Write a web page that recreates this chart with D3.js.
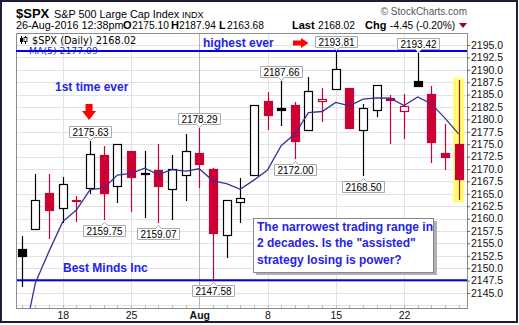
<!DOCTYPE html>
<html>
<head>
<meta charset="utf-8">
<script src="https://cdn.jsdelivr.net/npm/d3@7"></script>
<style>
  body { margin: 0; background: #fff; }
  svg { display: block; font-family: "Liberation Sans", Arial, sans-serif; }
  .grid line { stroke: #e2e2e2; shape-rendering: crispEdges; }
  .yAxis .domain, .xAxis .domain { display: none; }
  .yAxis .tick line { stroke: #666; }
  .yAxis .tick text { font-size: 10.5px; fill: #111; }
  .xAxis .tick line { display: none; }
  .xAxis .tick text { font-size: 10.5px; fill: #111; }
  .note { fill: #2424e8; font-weight: bold; font-size: 12px; }
  .callout text { font-size: 10px; fill: #000; }
</style>
</head>
<body>
<svg id="chart" width="519" height="325"></svg>
<script>
// daily candles, $SPX, Jul 13 - Aug 26 2016
const dates = ["2016-07-13","2016-07-14","2016-07-15","2016-07-18","2016-07-19","2016-07-20","2016-07-21","2016-07-22",
  "2016-07-25","2016-07-26","2016-07-27","2016-07-28","2016-07-29","2016-08-01","2016-08-02","2016-08-03","2016-08-04",
  "2016-08-05","2016-08-08","2016-08-09","2016-08-10","2016-08-11","2016-08-12","2016-08-15","2016-08-16","2016-08-17",
  "2016-08-18","2016-08-19","2016-08-22","2016-08-23","2016-08-24","2016-08-25","2016-08-26"];
const open = [2153.81,2157.88,2165.13,2162.04,2163.79,2166.10,2172.91,2166.47,2173.71,2168.97,2169.81,2166.05,2168.83,
  2173.15,2169.94,2156.81,2163.51,2168.79,2183.76,2182.24,2182.81,2177.97,2183.74,2186.08,2186.24,2177.84,2181.90,
  2184.24,2181.58,2187.81,2185.09,2173.29,2175.10];
const high = [2156.45,2168.99,2169.05,2168.35,2164.63,2175.63,2174.56,2175.11,2173.71,2173.54,2174.98,2172.85,2177.09,
  2178.29,2170.20,2163.79,2168.19,2182.87,2185.44,2187.66,2183.41,2188.45,2186.28,2193.81,2186.24,2183.08,2187.03,
  2185.00,2185.15,2193.42,2186.66,2179.00,2187.94];
const low = [2146.21,2157.88,2155.79,2159.07,2159.40,2164.89,2159.75,2163.24,2161.35,2160.18,2159.07,2159.74,2163.49,
  2166.21,2147.58,2152.02,2159.07,2168.79,2177.85,2178.61,2172.00,2177.97,2179.42,2186.08,2178.14,2168.50,2180.46,
  2175.13,2175.96,2186.80,2171.25,2169.74,2163.68];
const close = [2152.43,2163.75,2161.74,2166.89,2163.78,2173.02,2165.17,2175.03,2168.48,2169.18,2166.58,2170.06,2173.60,
  2170.84,2157.03,2163.79,2164.25,2182.87,2180.89,2181.74,2175.49,2185.79,2184.05,2190.15,2178.15,2182.22,2187.02,
  2183.87,2182.64,2186.90,2175.44,2172.47,2168.02];
const prevClose = 2152.14;
const ma5 = [2133.91,2147.08,2153.44,2159.39,2161.72,2165.84,2166.12,2168.78,2169.10,2170.18,2168.89,2169.87,2169.58,
  2170.05,2167.62,2167.06,2165.90,2167.76,2169.77,2174.71,2177.05,2181.36,2181.59,2183.44,2182.73,2184.07,2184.32,
  2184.28,2182.78,2184.53,2183.17,2180.26,2177.09];

const yTicks = d3.range(2145, 2195.01, 2.5);
const xTickDates = ["2016-07-18","2016-07-25","2016-08-01","2016-08-08","2016-08-15","2016-08-22"];
const xTickLabels = ["18","25","Aug","8","15","22"];

// levels and value callouts
const levels = [2193.81, 2147.58];
const callouts = [
  {date: "2016-07-20", text: "2175.63", side: "up"},
  {date: "2016-07-21", text: "2159.75", side: "down"},
  {date: "2016-07-27", text: "2159.07", side: "down"},
  {date: "2016-08-01", text: "2178.29", side: "up"},
  {date: "2016-08-02", text: "2147.58", side: "down"},
  {date: "2016-08-09", text: "2187.66", side: "up"},
  {date: "2016-08-10", text: "2172.00", side: "down"},
  {date: "2016-08-15", text: "2193.81", side: "up"},
  {date: "2016-08-17", text: "2168.50", side: "down"},
  {date: "2016-08-23", text: "2193.42", side: "up"}
];

const W = 519, H = 325;
const margin = {top: 33, right: 52, bottom: 17, left: 16};
const plotR = W - margin.right, plotB = H - margin.bottom;

const svg = d3.select("#chart");

const x = d3.scalePoint().domain(dates).range([21.8, 458.6]);
const y = d3.scaleLinear().domain([2145, 2195]).range([293, 45]);
const px = v => Math.round(v) + 0.5;

svg.append("defs").append("clipPath").attr("id", "plotClip")
  .append("rect").attr("x", margin.left).attr("y", margin.top)
  .attr("width", plotR - margin.left).attr("height", plotB - margin.top);

// outer frame
svg.append("rect").attr("x", 1).attr("y", 1).attr("width", W - 3).attr("height", H - 4)
  .attr("fill", "#fff").attr("stroke", "#1c1c3a").attr("stroke-width", 2);

// header
const head = svg.append("g");
head.append("text").attr("x", 16).attr("y", 17.5).attr("font-size", 13).attr("font-weight", "bold").text("$SPX");
head.append("text").attr("x", 54).attr("y", 17.5).attr("font-size", 10.8).text("S&P 500 Large Cap Index");
head.append("text").attr("x", 182).attr("y", 17.5).attr("font-size", 9).text("INDX");
head.append("text").attr("x", 467).attr("y", 15).attr("text-anchor", "end").attr("font-size", 10)
  .attr("fill", "#555").text("\u00A9 StockCharts.com");

const line2 = [
  {x: 16, t: "26-Aug-2016 12:38pm", b: false},
  {x: 123, t: "O", b: true}, {x: 132, t: "2175.10", b: false},
  {x: 171, t: "H", b: true}, {x: 179, t: "2187.94", b: false},
  {x: 219, t: "L", b: true}, {x: 227, t: "2163.68", b: false},
  {x: 292, t: "Last", b: true}, {x: 318, t: "2168.02", b: false},
  {x: 365, t: "Chg", b: true}, {x: 390, t: "-4.45 (-0.20%)", b: false}
];
head.selectAll("text.l2").data(line2).enter().append("text").attr("class", "l2")
  .attr("x", d => d.x).attr("y", 29).attr("font-size", d => d.b ? 11 : (d.x === 16 ? 10.8 : 10.2))
  .attr("font-weight", d => d.b ? "bold" : "normal").text(d => d.t);
head.append("path").attr("d", "M459,23 L467,23 L463,28 Z").attr("fill", "#99003a");

// plot background + grid
svg.append("rect").attr("x", margin.left).attr("y", margin.top)
  .attr("width", plotR - margin.left).attr("height", plotB - margin.top).attr("fill", "#fff");

const grid = svg.append("g").attr("class", "grid");
grid.selectAll("line.h").data(yTicks.concat([2142.5])).enter().append("line").attr("class", "h")
  .attr("x1", margin.left).attr("x2", plotR).attr("y1", d => px(y(d))).attr("y2", d => px(y(d)));
grid.selectAll("line.v").data(xTickDates).enter().append("line").attr("class", "v")
  .attr("x1", d => px(x(d))).attr("x2", d => px(x(d))).attr("y1", margin.top).attr("y2", plotB)
  .style("stroke", d => d === "2016-08-01" ? "#b4b4b4" : null);
grid.selectAll("line.d").data(dates).enter().append("line").attr("class", "d")
  .attr("x1", d => px(x(d))).attr("x2", d => px(x(d))).attr("y1", plotB - 3).attr("y2", plotB)
  .style("stroke", "#bbb");

// highlight of the last bar
const last = dates[dates.length - 1];
svg.append("rect").attr("x", x(last) - 5.5).attr("width", 11)
  .attr("y", y(high[high.length - 1]) - 2).attr("height", y(low[low.length - 1]) - y(high[high.length - 1]) + 4)
  .attr("fill", "#ffff70");

// level lines
svg.append("g").selectAll("line").data(levels).enter().append("line")
  .attr("x1", margin.left).attr("x2", plotR).attr("y1", d => y(d)).attr("y2", d => y(d))
  .attr("stroke", "#0000ee").attr("stroke-width", 2);

// candles
const bars = dates.map((d, i) => ({
  d, o: open[i], h: high[i], l: low[i], c: close[i],
  col: close[i] > (i ? close[i - 1] : prevClose) ? "#000" : "#cc0033",
  filled: close[i] < open[i]
}));
const candles = svg.append("g").attr("clip-path", "url(#plotClip)");
candles.selectAll("line.wick").data(bars).enter().append("line").attr("class", "wick")
  .attr("x1", b => px(x(b.d))).attr("x2", b => px(x(b.d)))
  .attr("y1", b => Math.round(y(b.h))).attr("y2", b => Math.round(y(b.l)))
  .attr("stroke", b => b.col).attr("stroke-width", 1.2);
candles.selectAll("rect.body").data(bars).enter().append("rect").attr("class", "body")
  .attr("x", b => Math.round(x(b.d)) - 4 + 0.5).attr("width", 8)
  .attr("y", b => Math.round(y(Math.max(b.o, b.c))) + 0.5)
  .attr("height", b => Math.max(1, Math.round(y(Math.min(b.o, b.c)) - y(Math.max(b.o, b.c)))))
  .attr("fill", b => b.filled ? b.col : "#fff").attr("stroke", b => b.col).attr("stroke-width", 1.2);

// MA(5)
candles.append("path").datum(ma5)
  .attr("d", d3.line().x((v, i) => x(dates[i])).y(v => y(v)))
  .attr("fill", "none").attr("stroke", "#33339a").attr("stroke-width", 1.3);

// plot border
svg.append("rect").attr("x", margin.left + 0.5).attr("y", margin.top + 0.5)
  .attr("width", plotR - margin.left).attr("height", plotB - margin.top)
  .attr("fill", "none").attr("stroke", "#8c8c8c");

// axes
svg.append("g").attr("class", "yAxis").attr("transform", `translate(${plotR},0)`)
  .call(d3.axisRight(y).tickValues(yTicks).tickSize(3).tickPadding(1).tickFormat(d3.format(".1f")));
svg.append("g").attr("class", "xAxis").attr("transform", `translate(0,${plotB})`)
  .call(d3.axisBottom(x).tickValues(xTickDates).tickSize(0).tickPadding(4)
    .tickFormat(d => xTickLabels[xTickDates.indexOf(d)]))
  .selectAll("text").attr("font-weight", d => d === "2016-08-01" ? "bold" : "normal")
  .attr("font-size", d => d === "2016-08-01" ? "11.5px" : null);

// legend
const leg = svg.append("g");
leg.append("line").attr("x1", 21.5).attr("x2", 21.5).attr("y1", 36).attr("y2", 44).attr("stroke", "#000");
leg.append("rect").attr("x", 20).attr("y", 38).attr("width", 3).attr("height", 4).attr("fill", "#000");
leg.append("line").attr("x1", 25.5).attr("x2", 25.5).attr("y1", 36).attr("y2", 44).attr("stroke", "#000");
leg.append("rect").attr("x", 24).attr("y", 37.5).attr("width", 3).attr("height", 4).attr("fill", "#fff").attr("stroke", "#000").attr("stroke-width", 0.8);
leg.append("text").attr("x", 32).attr("y", 44).attr("font-family", "DejaVu Sans").attr("font-size", 9.8)
  .text("$SPX (Daily) 2168.02");
leg.append("text").attr("x", 29).attr("y", 54).attr("font-family", "DejaVu Sans").attr("font-size", 9.3)
  .attr("fill", "#2828c8").text("MA(5) 2177.09");
// redraw top level line over legend text like the original
svg.append("line").attr("x1", margin.left).attr("x2", plotR).attr("y1", y(levels[0])).attr("y2", y(levels[0]))
  .attr("stroke", "#0000ee").attr("stroke-width", 2);

// value callouts
const cg = svg.append("g").attr("class", "callout");
callouts.forEach(c => {
  const i = dates.indexOf(c.date);
  const cx = Math.round(x(c.date)) + 0.5;
  const g = cg.append("g");
  const t = g.append("text").attr("text-anchor", "middle").text(c.text);
  const w = t.node().getComputedTextLength() + 6, hgt = 11;
  const l = Math.round(cx - w / 2) + 0.5, r = l + Math.round(w);
  let top, path;
  if (c.side === "up") {
    const b = Math.round(y(high[i])) - 4 + 0.5;
    top = b - hgt;
    path = `M${l},${top}H${r}V${b}H${cx + 3}L${cx},${b + 3}L${cx - 3},${b}H${l}Z`;
  } else {
    top = Math.round(y(low[i])) + 5 + 0.5;
    const b = top + hgt;
    path = `M${l},${top}H${cx - 3}L${cx},${top - 3}L${cx + 3},${top}H${r}V${b}H${l}Z`;
  }
  g.insert("path", "text").attr("d", path).attr("fill", "#fff").attr("stroke", "#aaa");
  t.attr("x", cx).attr("y", top + 9);
});

// notes
const arrowDown = (cx, ty) => `M${cx - 3.5},${ty}H${cx + 3.5}V${ty + 7}H${cx + 7}L${cx},${ty + 16}L${cx - 7},${ty + 7}H${cx - 3.5}Z`;
svg.append("path").attr("d", arrowDown(x("2016-07-20") - 1, 104)).attr("fill", "#ff0000");
svg.append("path").attr("d", "M293,40.5H301V38L308.5,43L301,48V45.5H293Z").attr("fill", "#ff0000");

svg.append("text").attr("class", "note").attr("x", 203).attr("y", 47).text("highest ever");
svg.append("text").attr("class", "note").attr("x", 55).attr("y", 91).text("1st time ever");
svg.append("text").attr("class", "note").attr("x", 63).attr("y", 272).text("Best Minds Inc");

const box = svg.append("g");
box.append("rect").attr("x", 256).attr("y", 221).attr("width", 181).attr("height", 54).attr("fill", "#b0b0b0");
box.append("rect").attr("x", 253.5).attr("y", 218.5).attr("width", 180).attr("height", 54)
  .attr("fill", "#fff").attr("stroke", "#888");
["The narrowest trading range in", "2 decades. Is the \"assisted\"", "strategy losing is power?"]
  .forEach((s, k) => box.append("text").attr("class", "note").attr("x", 257).attr("y", 231 + k * 16.3).text(s));
</script>
</body>
</html>
